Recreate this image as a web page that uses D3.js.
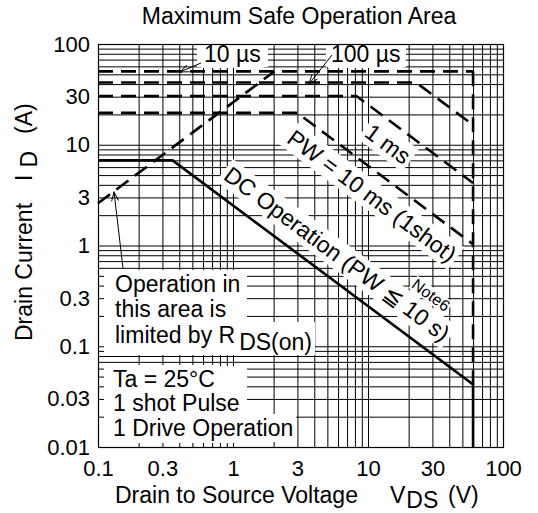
<!DOCTYPE html>
<html>
<head>
<meta charset="utf-8">
<script src="https://cdn.jsdelivr.net/npm/d3@7"></script>
<style>
body { margin: 0; background: #fff; }
text { font-family: "Liberation Sans", Arial, sans-serif; fill: #000; }
</style>
</head>
<body>
<svg id="chart" width="538" height="513"></svg>
<script>
// tick labels
const xTickLabels = [0.1, 0.3, 1, 3, 10, 30, 100];
const yTickLabels = [0.01, 0.03, 0.1, 0.3, 1, 3, 10, 30, 100];

// DC operation limit (solid)
const dcVds = [0.1, 0.357, 60, 60];
const dcId = [7, 7, 0.0417, 0.01];

// pulse limits (dashed)
const pulseLabels = ["10 µs", "100 µs", "1 ms", "10 ms"];
const pulseVds = [[0.1, 60], [0.1, 22.7, 60], [0.1, 8.2, 60], [0.1, 3.0, 60]];
const pulseId = [[53.5, 53.5], [41.5, 41.5, 15.7], [30.5, 30.5, 4.17], [20.7, 20.7, 1.03]];

// R_DS(on) limit and V_DSS limit (dashed)
const rdsVds = [0.1, 2.03];
const rdsId = [2.63, 53.5];
const vdssVds = [60, 60];
const vdssId = [53.5, 0.0417];

const svg = d3.select("#chart");
const pL = 98, pR = 503, pT = 44, pB = 447;
const fs = 23;

const x = d3.scaleLog().domain([0.1, 100]).range([pL, pR]);
const y = d3.scaleLog().domain([0.01, 100]).range([pB, pT]);

const gridG = svg.append("g");
const boxG = svg.append("g");
const curveG = svg.append("g");
const textG = svg.append("g");

// grid
gridG.append("g")
  .attr("transform", `translate(0,${pB})`)
  .call(d3.axisBottom(x).tickValues(x.ticks()).tickSize(-(pB - pT)).tickFormat(""))
  .call(g => g.select(".domain").remove());
gridG.append("g")
  .attr("transform", `translate(${pL},0)`)
  .call(d3.axisLeft(y).tickValues(y.ticks()).tickSize(-(pR - pL)).tickFormat(""))
  .call(g => g.select(".domain").remove());
gridG.selectAll("line").attr("stroke", "#000").attr("stroke-width", 1);

// frame
svg.append("rect")
  .attr("x", pL + 0.5).attr("y", pT + 0.5)
  .attr("width", pR - pL).attr("height", pB - pT)
  .attr("fill", "none").attr("stroke", "#000").attr("stroke-width", 1.2);

// tick labels
const fmt = d => String(d);
svg.append("g")
  .attr("transform", `translate(0,${pB})`)
  .call(d3.axisBottom(x).tickValues(xTickLabels).tickSize(0).tickPadding(13).tickFormat(fmt))
  .call(g => g.select(".domain").remove())
  .selectAll("text").attr("font-size", 22).attr("font-family", "Liberation Sans, Arial, sans-serif");
svg.append("g")
  .attr("transform", `translate(${pL},0)`)
  .call(d3.axisLeft(y).tickValues(yTickLabels).tickSize(0).tickPadding(8).tickFormat(fmt))
  .call(g => g.select(".domain").remove())
  .selectAll("text").attr("font-size", 22).attr("font-family", "Liberation Sans, Arial, sans-serif");

// curves
const line = d3.line().x(d => x(d[0])).y(d => y(d[1]));
const pts = (vs, is) => vs.map((v, k) => [v, is[k]]);
const dash = "15,8";

pulseVds.forEach((vs, k) => {
  curveG.append("path")
    .attr("d", line(pts(vs, pulseId[k])))
    .attr("fill", "none").attr("stroke", "#000")
    .attr("stroke-width", 2.6).attr("stroke-dasharray", dash);
});
curveG.append("path")
  .attr("d", line(pts(rdsVds, rdsId)))
  .attr("fill", "none").attr("stroke", "#000")
  .attr("stroke-width", 2.6).attr("stroke-dasharray", dash);
curveG.append("path")
  .attr("d", line(pts(vdssVds, vdssId)))
  .attr("fill", "none").attr("stroke", "#000")
  .attr("stroke-width", 2.6).attr("stroke-dasharray", dash);
curveG.append("path")
  .attr("d", line(pts(dcVds, dcId)))
  .attr("fill", "none").attr("stroke", "#000")
  .attr("stroke-width", 2.6);

// label helper: text with white box behind it
const label = (str, tx, ty, opts = {}) => {
  const t = textG.append("text")
    .attr("transform", `translate(${tx},${ty}) rotate(${opts.rot || 0})`)
    .attr("font-size", opts.size || fs)
    .attr("text-anchor", opts.anchor || "start")
    .attr("dy", opts.dy || 0)
    .text(str);
  const b = t.node().getBBox();
  const p = opts.pad == null ? 3 : opts.pad;
  boxG.append("rect")
    .attr("transform", `translate(${tx},${ty}) rotate(${opts.rot || 0})`)
    .attr("x", b.x - p).attr("y", b.y - p + 2)
    .attr("width", b.width + 2 * p).attr("height", b.height + 2 * p - 4)
    .attr("fill", "#fff");
  return t;
};

const ang = Math.atan((y(1) - y(10)) / (x(10) - x(1))) * 180 / Math.PI;

// title
svg.append("text").attr("x", 299).attr("y", 24)
  .attr("text-anchor", "middle").attr("font-size", fs)
  .text("Maximum Safe Operation Area");

// top labels
boxG.append("rect").attr("x", 197).attr("y", pT + 1).attr("width", 71).attr("height", 22).attr("fill", "#fff");
boxG.append("rect").attr("x", 326).attr("y", pT + 1).attr("width", 80).attr("height", 22).attr("fill", "#fff");
label(pulseLabels[0], 204, 62);
label(pulseLabels[1], 331, 62);

// rotated labels
label(pulseLabels[2], 388, 144, { rot: ang, anchor: "middle", dy: "0.35em" });
label("PW = " + pulseLabels[3] + " (1shot)", 372, 196, { rot: ang, anchor: "middle", dy: "0.35em" });
label("DC Operation (PW ≦ 10 s)", 337, 254, { rot: ang, anchor: "middle", dy: "0.35em" });
label("Note6", 431, 295, { rot: ang, anchor: "middle", dy: "0.35em", size: 16, pad: 1 });

// boxed notes, lower left
boxG.append("rect").attr("x", 104).attr("y", 270).attr("width", 143).attr("height", 83).attr("fill", "#fff");
boxG.append("rect").attr("x", 104).attr("y", 366).attr("width", 143).attr("height", 77).attr("fill", "#fff");
label("Operation in", 115, 292);
label("this area is", 115, 317);
const lim = label("limited by R", 115, 343);
lim.append("tspan").attr("dx", 4).attr("dy", 7).text("DS(on)");
{
  const b = lim.node().getBBox();
  boxG.append("rect").attr("x", 115 + b.x - 3).attr("y", 343 + b.y)
    .attr("width", b.width + 6).attr("height", b.height).attr("fill", "#fff");
}
label("Ta = 25°C", 113, 387);
label("1 shot Pulse", 113, 411);
label("1 Drive Operation", 113, 436);

// arrows
const defs = svg.append("defs");
defs.append("marker").attr("id", "arr")
  .attr("markerUnits", "userSpaceOnUse")
  .attr("viewBox", "-10 -5 12 10").attr("refX", 0).attr("refY", 0)
  .attr("markerWidth", 12).attr("markerHeight", 10).attr("orient", "auto")
  .append("path").attr("d", "M-9,-3.5L0,0L-9,3.5")
  .attr("fill", "none").attr("stroke", "#000").attr("stroke-width", 1);
const arrows = [[[201, 63], [180, 72]], [[332, 55], [309, 84]], [[123, 268], [114, 192]]];
arrows.forEach(a => {
  textG.append("line")
    .attr("x1", a[0][0]).attr("y1", a[0][1]).attr("x2", a[1][0]).attr("y2", a[1][1])
    .attr("stroke", "#000").attr("stroke-width", 1).attr("marker-end", "url(#arr)");
});

// axis titles
svg.append("text").attr("x", 115).attr("y", 503).attr("font-size", fs)
  .text("Drain to Source Voltage");
const vt = svg.append("text").attr("x", 390).attr("y", 503).attr("font-size", fs).text("V");
vt.append("tspan").attr("dx", 1).attr("dy", 5).text("DS");
svg.append("text").attr("x", 448).attr("y", 503).attr("font-size", fs).text("(V)");

const yl = svg.append("g").attr("transform", "translate(32,0) rotate(-90)");
yl.append("text").attr("x", -341).attr("y", 0).attr("font-size", fs).text("Drain Current");
const it = yl.append("text").attr("x", -181).attr("y", 0).attr("font-size", fs).text("I");
it.append("tspan").attr("dx", 7).attr("dy", 5).text("D");
yl.append("text").attr("x", -134).attr("y", 0).attr("font-size", fs).text("(A)");
</script>
</body>
</html>
